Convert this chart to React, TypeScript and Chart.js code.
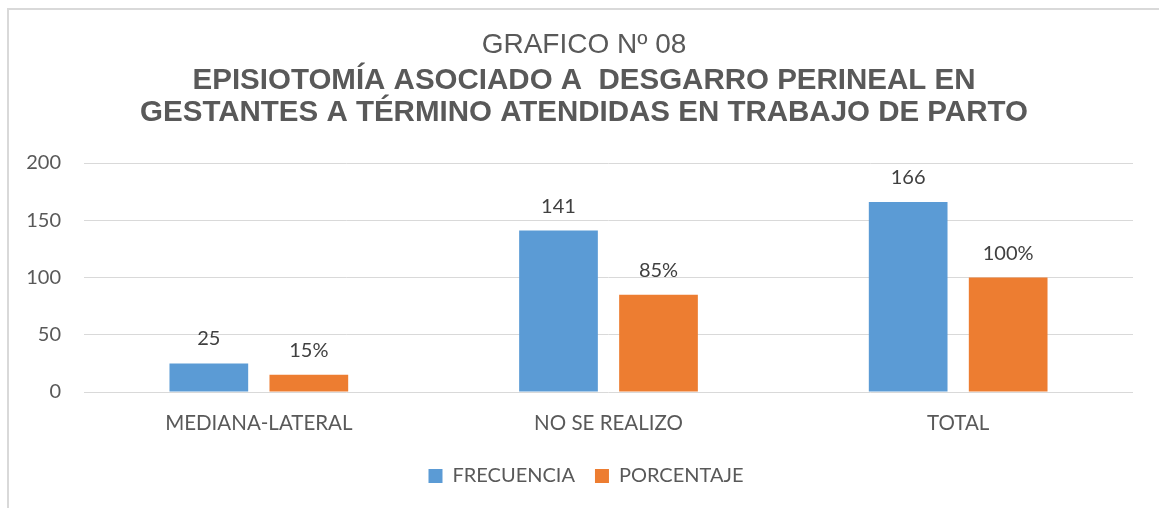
import React, { useEffect, useRef } from "react";
import { Chart, registerables } from "chart.js";

Chart.register(...registerables);

const titleText = "GRAFICO Nº 08";
const subtitleLines = [
  "EPISIOTOMÍA ASOCIADO A  DESGARRO PERINEAL EN",
  "GESTANTES A TÉRMINO ATENDIDAS EN TRABAJO DE PARTO",
];
const categories = ["MEDIANA-LATERAL", "NO SE REALIZO", "TOTAL"];
const seriesNames = ["FRECUENCIA", "PORCENTAJE"];
const frecuencia = [25, 141, 166];
const porcentaje = [15, 85, 100];
const valueSuffixes = ["", "%"];
const yTickValues = [0, 50, 100, 150, 200];

const BLUE = "#5B9BD5";
const ORANGE = "#ED7D31";
const NUM_FONT = "Lato, 'Open Sans', sans-serif";
const TITLE_FONT = "'Liberation Sans', Arial, sans-serif";

const valueLabels = {
  id: "valueLabels",
  afterDatasetsDraw(chart: any) {
    const ctx = chart.ctx;
    ctx.save();
    ctx.font = `20px ${NUM_FONT}`;
    ctx.fillStyle = "#404040";
    ctx.textAlign = "center";
    ctx.textBaseline = "alphabetic";
    chart.data.datasets.forEach((ds: any, di: number) => {
      const meta = chart.getDatasetMeta(di);
      meta.data.forEach((bar: any, i: number) => {
        const text = `${ds.data[i]}${valueSuffixes[di]}`;
        ctx.fillText(text, bar.x, bar.y - 18);
      });
    });
    ctx.restore();
  },
};

// Nudge the full-width title/subtitle/legend boxes to the right, as in the original.
const boxNudge = {
  id: "boxNudge",
  afterLayout(chart: any) {
    chart.boxes.forEach((box: any) => {
      if (box.axis) return;
      const isLegend = box === chart.legend;
      const dx = isLegend ? 7 : 5;
      box.left += dx;
      box.right += dx;
    });
  },
};

export default function App() {
  const ref = useRef<HTMLCanvasElement>(null);

  useEffect(() => {
    if (!ref.current) return;
    const chart = new Chart(ref.current, {
      type: "bar",
      data: {
        labels: categories,
        datasets: [
          {
            label: seriesNames[0],
            data: frecuencia,
            backgroundColor: BLUE,
            categoryPercentage: 0.572,
            barPercentage: 0.787,
          },
          {
            label: seriesNames[1],
            data: porcentaje,
            backgroundColor: ORANGE,
            categoryPercentage: 0.572,
            barPercentage: 0.787,
          },
        ],
      },
      options: {
        animation: false,
        responsive: false,
        layout: { padding: { left: 25, right: 26, top: 0, bottom: 12 } },
        plugins: {
          title: {
            display: true,
            text: titleText,
            color: "#595959",
            font: { family: TITLE_FONT, size: 28, weight: "normal", lineHeight: 1.2 },
            padding: { top: 28.7, bottom: 0 },
          },
          subtitle: {
            display: true,
            text: subtitleLines,
            color: "#595959",
            font: { family: TITLE_FONT, size: 29.5, weight: "bold", lineHeight: 32 / 29.5 },
            padding: { top: 2.4, bottom: 34.3 },
          },
          legend: {
            position: "bottom",
            labels: {
              boxWidth: 14,
              boxHeight: 14,
              padding: 20,
              color: "#595959",
              font: { family: NUM_FONT, size: 20 },
            },
          },
          tooltip: { enabled: false },
        },
        scales: {
          x: {
            grid: { display: false, drawTicks: false },
            border: { display: false },
            ticks: {
              color: "#595959",
              font: { family: NUM_FONT, size: 20.5 },
              padding: 19,
              maxRotation: 0,
            },
            afterFit(scale: any) {
              scale.height = 54;
            },
          },
          y: {
            min: yTickValues[0],
            max: yTickValues[yTickValues.length - 1],
            grid: { color: "#D9D9D9", lineWidth: 1, drawTicks: false },
            border: { display: false },
            ticks: {
              color: "#595959",
              font: { family: NUM_FONT, size: 20 },
              padding: 23,
            },
            afterBuildTicks(scale: any) {
              scale.ticks = yTickValues.map((v) => ({ value: v }));
            },
            afterFit(scale: any) {
              scale.width = 59;
            },
          },
        },
      },
      plugins: [valueLabels, boxNudge],
    });
    return () => chart.destroy();
  }, []);

  return (
    <div
      style={{
        position: "absolute",
        left: 0,
        top: 0,
        width: 1159,
        height: 508,
        overflow: "hidden",
        background: "#ffffff",
      }}
    >
      <div
        style={{
          position: "absolute",
          left: 7,
          top: 8,
          width: 1300,
          height: 700,
          borderLeft: "2px solid #D9D9D9",
          borderTop: "2px solid #D9D9D9",
        }}
      />
      <canvas
        ref={ref}
        width={1159}
        height={508}
        style={{ position: "absolute", left: 0, top: 0, width: 1159, height: 508 }}
      />
    </div>
  );
}
